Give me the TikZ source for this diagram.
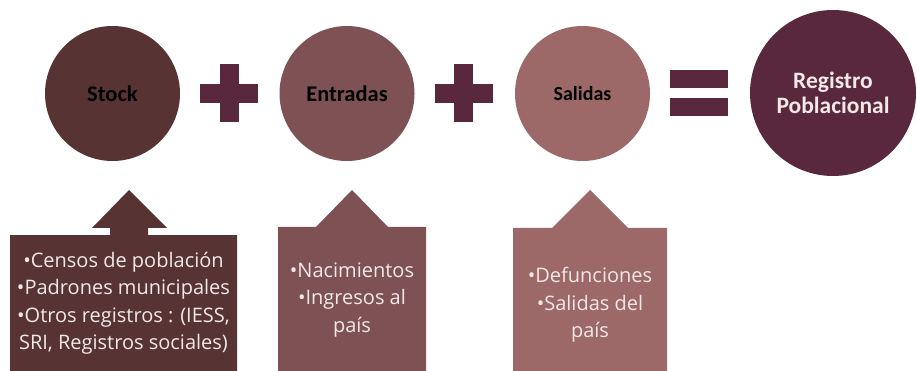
\documentclass[tikz,border=0pt]{standalone}
\usepackage{fontspec}
\setmainfont{Carlito}
\newfontfamily\boxfont{Open Sans}
\usetikzlibrary{positioning}
\definecolor{stockcol}{RGB}{87,51,51}
\definecolor{entcol}{RGB}{126,82,84}
\definecolor{salcol}{RGB}{156,104,104}
\definecolor{regcol}{RGB}{90,40,60}
\definecolor{txtcol}{RGB}{242,232,232}

\begin{document}
\begin{tikzpicture}
  [
  x=1pt, y=-1pt,
  bubble/.style={circle, inner sep=0pt, minimum size=135pt, font=\bfseries\fontsize{22.5}{24}\selectfont},
  opsign/.style={fill=regcol},
  boxtext/.style={align=center, text=txtcol, inner sep=0pt, font=\boxfont\fontsize{20}{27.5}\selectfont},
  ]
  \useasboundingbox (0,0) rectangle (917,371);

  \node[bubble, fill=stockcol] (stock) at (112.5,93.5) {Stock};
  \node[bubble, fill=entcol] (entradas) at (347,93.5) {Entradas};
  \node[bubble, fill=salcol, font=\bfseries\fontsize{20}{24}\selectfont] (salidas) at (582.5,93.5) {Salidas};
  \node[bubble, fill=regcol, minimum size=166pt, text=txtcol, align=center,
    font=\bfseries\fontsize{23.5}{24.5}\selectfont] (registro) at (833,93) {Registro\\Poblacional};

  \coordinate (masA) at (229,93.5);
  \fill[opsign] (masA) ++(-29,-9.5) rectangle ++(58,19);
  \fill[opsign] (masA) ++(-9.5,-29) rectangle ++(19,58);
  \coordinate (masB) at (463.5,93.5);
  \fill[opsign] (masB) ++(-29,-9.5) rectangle ++(58,19);
  \fill[opsign] (masB) ++(-9.5,-29) rectangle ++(19,58);
  \coordinate (igual) at (699,93);
  \fill[opsign] (igual) ++(-29,-23) rectangle ++(58,18);
  \fill[opsign] (igual) ++(-29,5) rectangle ++(58,18);

  \fill[stockcol] (10,371) -- (10,235) -- (110,235) -- (110,228) -- (92,228) -- (129,190)
    -- (167,228) -- (148,228) -- (148,235) -- (237,235) -- (237,371) -- cycle;
  \fill[entcol] (278,371) -- (278,227) -- (316,227) -- (352,190) -- (388,227)
    -- (426,227) -- (426,371) -- cycle;
  \fill[salcol] (513,371) -- (513,228) -- (552,228) -- (590,190) -- (628,228)
    -- (667,228) -- (667,371) -- cycle;

  \node[boxtext] (stocklist) at (123.5,303) {•Censos de población\\•Padrones municipales\\•Otros registros : (IESS,\\SRI, Registros sociales)};
  \node[boxtext] (entlist) at (352,300) {•Nacimientos\\•Ingresos al\\país};
  \node[boxtext] (sallist) at (590,305) {•Defunciones\\•Salidas del\\país};
\end{tikzpicture}
\end{document}
